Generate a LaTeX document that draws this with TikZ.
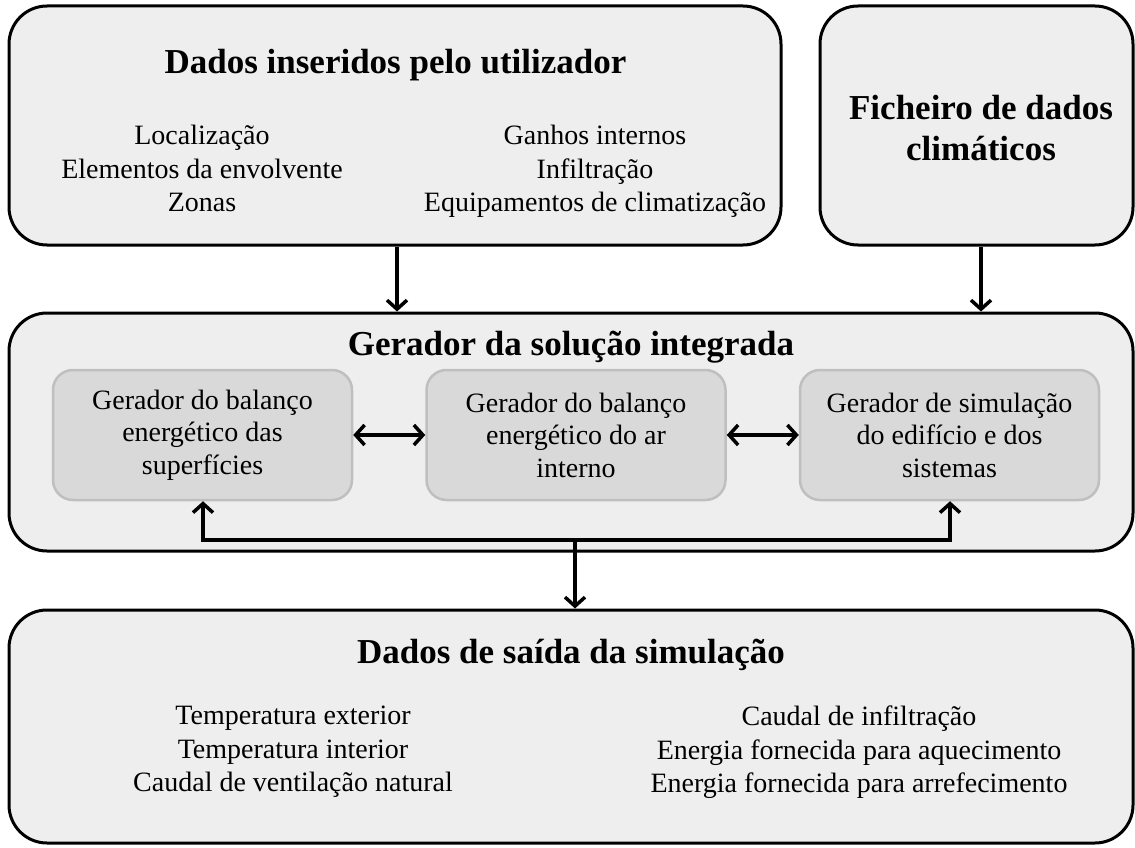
\documentclass[tikz,border=0pt]{standalone}
\usepackage{fontspec}
\setmainfont{Liberation Serif}
\usetikzlibrary{arrows.meta}
\definecolor{outerfill}{HTML}{EEEEEE}
\definecolor{innerfill}{HTML}{D9D9D9}
\definecolor{innerdraw}{HTML}{BFBFBF}
\begin{document}
\begin{tikzpicture}[x=1pt,y=-1pt,
  outer/.style={draw=black, line width=3pt, fill=outerfill, rounded corners=38pt, inner sep=0pt},
  inner/.style={draw=innerdraw, line width=2.5pt, fill=innerfill, rounded corners=20pt,
    minimum width=299pt, minimum height=130pt, inner sep=0pt, align=center,
    font=\fontsize{28}{32.5}\selectfont},
  title/.style={font=\fontsize{35}{40.7}\selectfont\bfseries, align=center, inner sep=0pt},
  body/.style={font=\fontsize{28}{33.5}\selectfont, align=center, inner sep=0pt},
  arr/.style={line width=3.5pt, -{Straight Barb[length=9pt,width=20pt]}},
  darr/.style={line width=3.5pt, {Straight Barb[length=9pt,width=20pt]}-{Straight Barb[length=9pt,width=20pt]}}
]
\useasboundingbox (0,0) rectangle (1135,848);
% outer boxes
\node[outer, minimum width=772pt, minimum height=239pt] (tl) at (395,125.5) {};
\node[outer, minimum width=313pt, minimum height=239pt] (tr) at (976.5,125.5) {};
\node[outer, minimum width=1124pt, minimum height=238pt] (mid) at (571,432) {};
\node[outer, minimum width=1124pt, minimum height=233pt] (bot) at (571,726.5) {};
% texts
\node[title] (tlt) at (395.5,65) {Dados inseridos pelo utilizador};
\node[body] (tll) at (202,168.5) {Localização\\Elementos da envolvente\\Zonas};
\node[body] (tlr) at (595,171.5) {Ganhos internos\\Infiltração\\Equipamentos de climatização};
\node[title] (trt) at (981,128) {Ficheiro de dados\\climáticos};
\node[title] (midt) at (571,347) {Gerador da solução integrada};
\node[title] (bott) at (571,655) {Dados de saída da simulação};
\node[body] (botl) at (293,752) {Temperatura exterior\\Temperatura interior\\Caudal de ventilação natural};
\node[body] (botr) at (859,752.5) {Caudal de infiltração\\Energia fornecida para aquecimento\\Energia fornecida para arrefecimento};
% inner boxes
\node[inner] (i1) at (202.5,435) {Gerador do balanço\\energético das\\superfícies};
\node[inner] (i2) at (576,435) {Gerador do balanço\\energético do ar\\interno};
\node[inner] (i3) at (949.5,435) {Gerador de simulação\\do edifício e dos\\sistemas};
% connector guides
\coordinate (ca) at (397,0);
\coordinate (cb) at (981,0);
\coordinate (cl) at (203,540);
\coordinate (cr) at (950,540);
\coordinate (cm) at (575,540);
% connectors
\draw[arr] (tl.south -| ca) -- (mid.north -| ca);
\draw[arr] (tr.south -| cb) -- (mid.north -| cb);
\draw[darr] (i1.east) -- (i2.west);
\draw[darr] (i2.east) -- (i3.west);
\draw[darr] (i1.south -| cl) -- (cl) -- (cr) -- (i3.south -| cr);
\draw[arr] (cm) -- (bot.north -| cm);
\end{tikzpicture}
\end{document}
